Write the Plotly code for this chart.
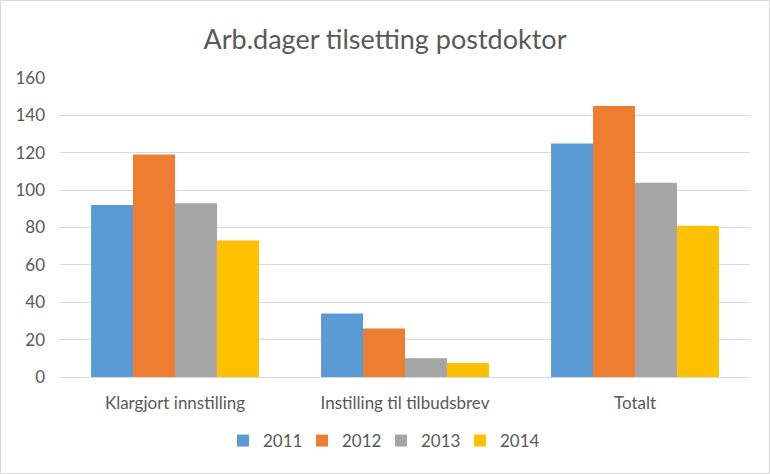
import plotly.graph_objects as go

categories = ["Klargjort innstilling", "Instilling til tilbudsbrev", "Totalt"]
years = ["2011", "2012", "2013", "2014"]
v2011 = [92, 34, 125]
v2012 = [119, 26, 145]
v2013 = [93, 10, 104]
v2014 = [73, 7.5, 81]
colors = ["#5b9bd5", "#ed7d31", "#a5a5a5", "#ffc000"]

W, H = 770, 474
ml, mr, mt, mb = 60, 20, 78, 97
pw, ph = W - ml - mr, H - mt - mb

fig = go.Figure()
for name, vals, c in zip(years, [v2011, v2012, v2013, v2014], colors):
    fig.add_trace(go.Bar(x=categories, y=vals, name=name, marker_color=c, marker_line_width=0))

def px2x(p):
    return (p - ml) / pw

def py2y(p):
    return (H - mb - p) / ph

fig.update_layout(
    width=W, height=H,
    margin=dict(l=ml, r=mr, t=mt, b=mb),
    paper_bgcolor="white", plot_bgcolor="white",
    font=dict(family="Lato, Open Sans, sans-serif", color="#595959", size=17),
    title=dict(text="Arb.dager tilsetting postdoktor", x=0.5, xanchor="center",
               y=1 - 40 / H, yanchor="middle", font=dict(size=27, color="#595959")),
    barmode="group", bargap=0.27, bargroupgap=0,
    legend=dict(orientation="h", x=px2x(223), xanchor="left", y=py2y(441), yanchor="middle",
                font=dict(size=17, color="#595959"), itemwidth=30, entrywidth=34,
                traceorder="normal"),
    yaxis=dict(range=[0, 160], dtick=20, showgrid=True, gridcolor="#d9d9d9", gridwidth=1,
               zeroline=True, zerolinecolor="#d9d9d9", zerolinewidth=1, showline=False,
               ticks="", tickfont=dict(size=17, color="#595959"), ticklabelstandoff=14),
    xaxis=dict(showline=False, ticks="", tickfont=dict(size=17, color="#595959"),
               ticklabelstandoff=14),
    shapes=[dict(type="rect", xref="paper", yref="paper",
                 x0=px2x(0.5), x1=px2x(W - 0.5), y0=py2y(H - 0.5), y1=py2y(0.5),
                 line=dict(color="#d9d9d9", width=1), fillcolor="rgba(0,0,0,0)", layer="below")],
)

fig.write_html("out.html")
